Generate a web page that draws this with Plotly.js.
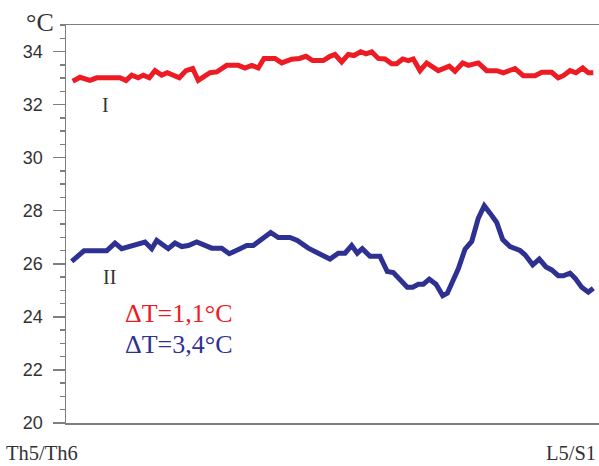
<!DOCTYPE html>
<html>
<head>
<meta charset="utf-8">
<script src="https://cdn.plot.ly/plotly-3.0.1.min.js"></script>
<style>html,body{margin:0;padding:0;background:#fff;}#chart{width:599px;height:466px;}</style>
</head>
<body>
<div id="chart"></div>
<script>
// Position along the spine, % of distance from Th5/Th6 to L5/S1
const redPos = [1.26,2.63,4.50,5.76,10.13,11.26,12.33,13.56,14.50,15.63,16.70,17.95,19.01,21.26,22.51,23.77,24.82,27.02,28.27,30.15,32.33,33.58,34.84,36.08,37.15,39.21,40.47,42.35,43.77,45.03,46.28,48.27,49.53,50.47,51.73,52.96,54.03,55.29,56.29,57.36,58.59,59.85,61.11,62.04,63.17,64.22,65.16,66.42,67.67,69.85,71.91,72.98,74.43,75.48,77.36,78.93,80.81,82.06,84.24,85.80,88.00,89.25,91.13,92.36,93.30,94.56,95.68,96.94,97.99,98.93];
const redTemp = [32.88,33.03,32.91,33.01,33.01,32.91,33.11,33.01,33.11,33.01,33.28,33.11,33.20,33.01,33.28,33.36,32.91,33.20,33.23,33.48,33.48,33.38,33.48,33.38,33.74,33.74,33.57,33.71,33.74,33.82,33.66,33.66,33.82,33.89,33.61,33.89,33.85,33.99,33.91,33.99,33.74,33.72,33.54,33.54,33.72,33.66,33.72,33.28,33.57,33.28,33.45,33.26,33.57,33.48,33.57,33.28,33.28,33.20,33.36,33.09,33.09,33.22,33.22,33.01,33.09,33.28,33.20,33.38,33.20,33.20];

const bluePos = [1.07,3.38,7.64,9.19,10.45,12.01,13.56,14.82,16.08,17.02,19.19,20.45,21.71,22.95,24.52,25.76,27.34,29.21,30.64,32.65,33.90,35.14,36.72,38.41,39.83,42.03,43.40,45.46,47.34,49.53,51.09,52.35,53.60,54.65,55.59,57.04,58.91,60.28,61.41,62.66,64.03,65.05,66.10,67.04,68.16,69.42,70.68,71.54,73.60,74.86,76.12,77.36,78.48,79.55,80.81,81.93,83.30,85.18,86.12,87.56,88.80,90.06,91.13,92.36,93.30,94.56,95.50,96.75,97.99,98.93];
const blueTemp = [26.09,26.49,26.49,26.78,26.57,26.65,26.74,26.82,26.57,26.88,26.57,26.78,26.65,26.69,26.82,26.74,26.59,26.59,26.38,26.57,26.69,26.69,26.94,27.18,26.99,26.99,26.88,26.59,26.40,26.18,26.40,26.40,26.69,26.40,26.57,26.28,26.28,25.71,25.67,25.42,25.12,25.12,25.23,25.23,25.42,25.23,24.80,24.89,25.81,26.55,26.84,27.72,28.19,27.91,27.56,26.91,26.65,26.50,26.34,25.96,26.18,25.88,25.77,25.55,25.55,25.65,25.46,25.12,24.93,25.08];

const yTickVals = [20,22,24,26,28,30,32,34];
const yTickText = ['20','22','24','26','28','30','32','34'];

const RED = '#ED1C24';
const BLUE = '#2E3192';
const AXIS = '#7f7f7f';
const TXT = '#333333';
const SERIF = '"Liberation Serif", "DejaVu Serif", serif';

const traces = [
  {x: redPos, y: redTemp, type: 'scatter', mode: 'lines', line: {color: RED, width: 5}, hoverinfo: 'skip'},
  {x: bluePos, y: blueTemp, type: 'scatter', mode: 'lines', line: {color: BLUE, width: 5}, hoverinfo: 'skip'}
];

const layout = {
  width: 599, height: 466,
  margin: {l: 66, r: 0, t: 25, b: 43},
  paper_bgcolor: '#fff', plot_bgcolor: '#fff',
  showlegend: false,
  xaxis: {
    range: [0, 100], showticklabels: false, ticks: '', showgrid: false, zeroline: false,
    showline: true, mirror: true, linecolor: AXIS, linewidth: 1.5
  },
  yaxis: {
    range: [20, 35], tickvals: yTickVals, ticktext: yTickText,
    ticks: 'outside', ticklen: 12, tickwidth: 1.5, tickcolor: AXIS,
    minor: {dtick: 0.5, tick0: 20, ticks: 'outside', ticklen: 5, tickwidth: 1.5, tickcolor: AXIS, showgrid: false},
    showgrid: false, zeroline: false, showline: true, linecolor: AXIS, linewidth: 1.5,
    tickfont: {family: '"Liberation Sans", Arial, sans-serif', size: 18, color: TXT},
    ticklabelstandoff: 6
  },
  annotations: [
    {text: '°C', xref: 'paper', yref: 'paper', x: -0.048, y: 1.006, xanchor: 'center', yanchor: 'middle', showarrow: false, font: {family: SERIF, size: 26, color: TXT}},
    {text: 'I', xref: 'paper', yref: 'paper', x: 0.0732, y: 0.80, xanchor: 'center', yanchor: 'middle', showarrow: false, font: {family: SERIF, size: 20, color: TXT}},
    {text: 'II', xref: 'paper', yref: 'paper', x: 0.0807, y: 0.366, xanchor: 'center', yanchor: 'middle', showarrow: false, font: {family: SERIF, size: 20, color: TXT}},
    {text: 'ΔT=1,1°C', xref: 'paper', yref: 'paper', x: 0.1063, y: 0.276, xanchor: 'left', yanchor: 'middle', showarrow: false, font: {family: SERIF, size: 26, color: RED}},
    {text: 'ΔT=3,4°C', xref: 'paper', yref: 'paper', x: 0.1063, y: 0.196, xanchor: 'left', yanchor: 'middle', showarrow: false, font: {family: SERIF, size: 26, color: BLUE}},
    {text: 'Th5/Th6', xref: 'paper', yref: 'paper', x: -0.1145, y: -0.0755, xanchor: 'left', yanchor: 'middle', borderpad: 0, showarrow: false, font: {family: SERIF, size: 20.5, color: TXT}},
    {text: 'L5/S1', xref: 'paper', yref: 'paper', x: 0.997, y: -0.0755, xanchor: 'right', yanchor: 'middle', borderpad: 0, showarrow: false, font: {family: SERIF, size: 20.5, color: TXT}}
  ]
};

Plotly.newPlot('chart', traces, layout, {staticPlot: true, displayModeBar: false});
</script>
</body>
</html>
